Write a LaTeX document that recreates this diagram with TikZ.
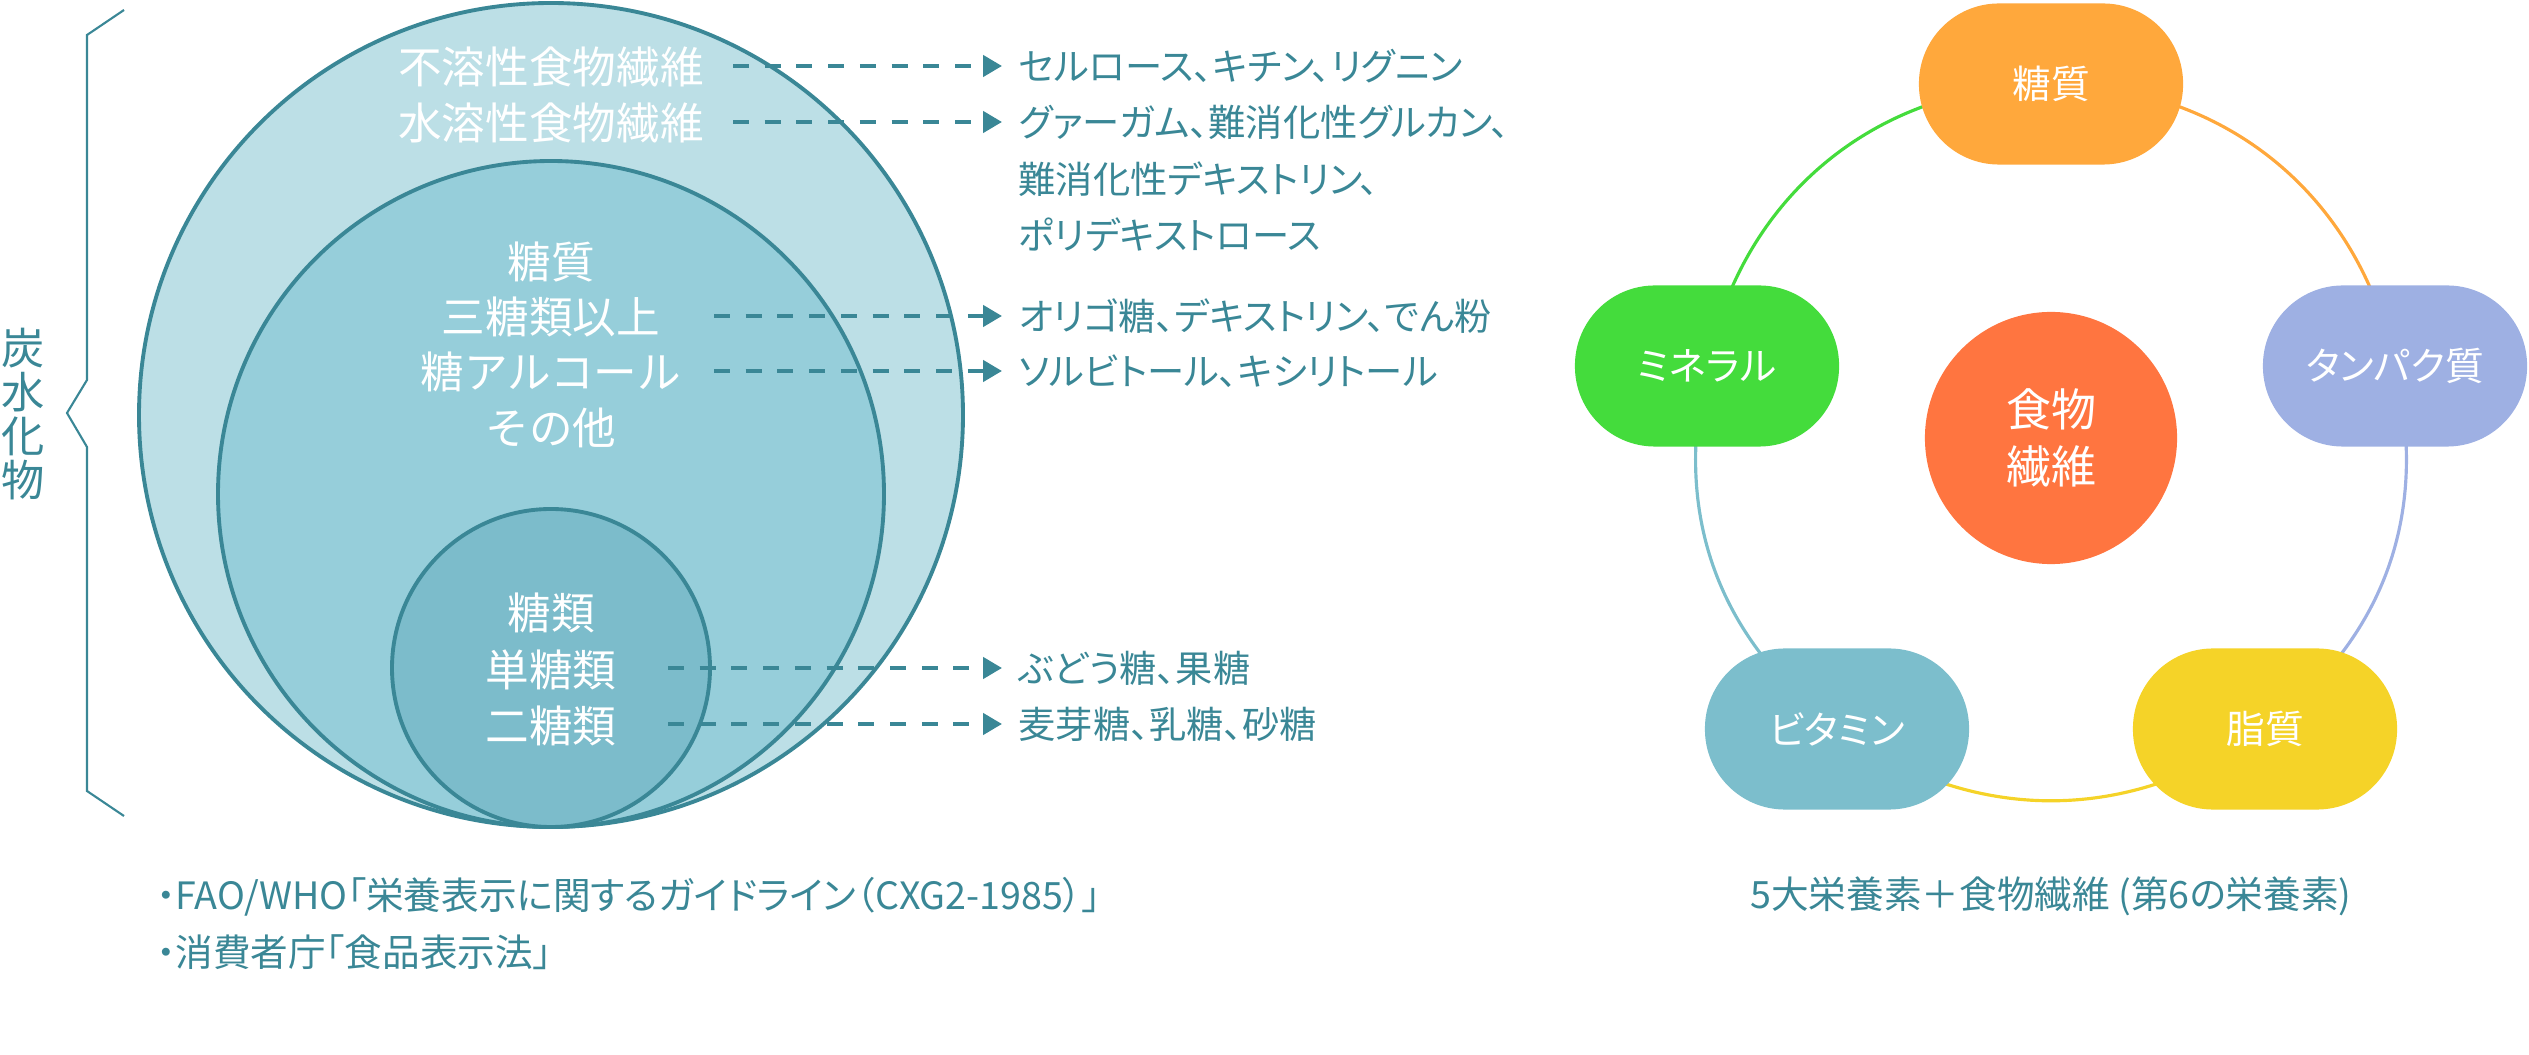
\documentclass[tikz,border=0pt]{standalone}
\usepackage{fontspec}
\setmainfont{Noto Sans CJK JP}
\newfontfamily\propfont{Noto Sans CJK JP}[RawFeature=+palt]
\usepackage{tikz}
\usetikzlibrary{arrows.meta,positioning,backgrounds}

\definecolor{lineteal}{HTML}{3A8796}
\definecolor{fibout}{HTML}{BCDFE6}
\definecolor{fibmid}{HTML}{96CEDA}
\definecolor{fibin}{HTML}{7CBCCB}
\definecolor{sugarorange}{HTML}{FFA83C}
\definecolor{protblue}{HTML}{9EB0E3}
\definecolor{fatyellow}{HTML}{F5D328}
\definecolor{vitblue}{HTML}{7CBECC}
\definecolor{minegreen}{HTML}{44DC3C}
\definecolor{fiberred}{HTML}{FF7540}

\begin{document}
\begin{tikzpicture}[
  x=0.01cm, y=0.01cm,
  ring/.style={draw=lineteal, line width=1.1pt},
  intxt/.style={text=white, inner sep=0, font=\fontsize{12.4}{15}\selectfont},
  extxt/.style={anchor=west, text=lineteal, inner xsep=0.16cm, inner ysep=0, font=\propfont\fontsize{10.6}{13}\selectfont},
  note/.style={text=lineteal, inner sep=0, font=\propfont\fontsize{10.7}{13}\selectfont},
  dasharr/.style={draw=lineteal, line width=1.2pt, dash pattern=on 0.16cm off 0.157cm, -{Triangle[length=5.4pt,width=6pt]}},
  nutr/.style={rounded corners=0.8cm, minimum width=2.64cm, minimum height=1.61cm, text=white, font=\propfont\fontsize{11}{13}\selectfont},
  link/.style={line width=0.9pt}
]
\useasboundingbox (0,0) rectangle (2529,1054);

% carbohydrate circles
\draw[ring, fill=fibout] (551,639) circle[radius=412];
\draw[ring, fill=fibmid] (551,560) circle[radius=333];
\draw[ring, fill=fibin] (551,386) circle[radius=159];

\node[intxt] (insol) at (551,987) {不溶性食物繊維};
\node[intxt] (sol) at (551,931) {水溶性食物繊維};
\node[intxt] (sacch) at (551,792) {糖質};
\node[intxt] (tri) at (551,737) {三糖類以上};
\node[intxt] (alc) at (551,682) {糖アルコール};
\node[intxt] (other) at (551,626) {その他};
\node[intxt] (sug) at (551,441) {糖類};
\node[intxt] (mono) at (551,384) {単糖類};
\node[intxt] (di) at (551,328) {二糖類};

% examples
\node[extxt] (insolex) at (1002,988) {セルロース、キチン、リグニン};
\node[extxt] (solex) at (1002,932) {グァーガム、難消化性グルカン、};
\node[extxt] (solex2) at (1002,875) {難消化性デキストリン、};
\node[extxt] (solex3) at (1002,819) {ポリデキストロース};
\node[extxt] (triex) at (1002,738) {オリゴ糖、デキストリン、でん粉};
\node[extxt] (alcex) at (1002,683) {ソルビトール、キシリトール};
\node[extxt] (monoex) at (1002,386) {ぶどう糖、果糖};
\node[extxt] (diex) at (1002,330) {麦芽糖、乳糖、砂糖};

\draw[dasharr] (733,0 |- insolex.west) -- (insolex.west);
\draw[dasharr] (733,0 |- solex.west) -- (solex.west);
\draw[dasharr] (714,0 |- triex.west) -- (triex.west);
\draw[dasharr] (714,0 |- alcex.west) -- (alcex.west);
\draw[dasharr] (668,0 |- monoex.west) -- (monoex.west);
\draw[dasharr] (668,0 |- diex.west) -- (diex.west);

% brace
\draw[lineteal, line width=0.6pt] (124,1044) -- (87,1019) -- (87,674) -- (67,641) -- (87,607) -- (87,263) -- (124,238);
\node[text=lineteal, align=center, inner sep=0, font=\fontsize{12.3}{12.5}\selectfont] (carbo) at (23,640) {炭\\水\\化\\物};

\node[note, anchor=west] (src1) at (156,157) {・FAO/WHO「栄養表示に関するガイドライン（CXG2-1985）」};
\node[note, anchor=west] (src2) at (156,102) {・消費者庁「食品表示法」};

% nutrients
\node[nutr, fill=sugarorange] (carb) at (2051,970) {糖質};
\node[nutr, fill=protblue] (prot) at (2395,688) {タンパク質};
\node[nutr, fill=fatyellow] (fat) at (2265,325) {脂質};
\node[nutr, fill=vitblue] (vit) at (1837,325) {ビタミン};
\node[nutr, fill=minegreen] (mine) at (1707,688) {ミネラル};
\node[circle, fill=fiberred, minimum size=2.52cm, text=white, align=center, font=\fontsize{12.8}{16}\selectfont] (fiber) at (2051,616) {食物\\繊維};

\begin{scope}[on background layer]
\draw[link, draw=sugarorange] (carb.center) to[bend left=39] (prot.center);
\draw[link, draw=protblue] (prot.center) to[bend left=33] (fat.center);
\draw[link, draw=fatyellow] (fat.center) to[bend left=35] (vit.center);
\draw[link, draw=vitblue] (vit.center) to[bend left=33] (mine.center);
\draw[link, draw=minegreen] (mine.center) to[bend left=39] (carb.center);
\end{scope}

\node[note] (capt) at (2051,158) {5大栄養素＋食物繊維 (第6の栄養素)};

\end{tikzpicture}
\end{document}
